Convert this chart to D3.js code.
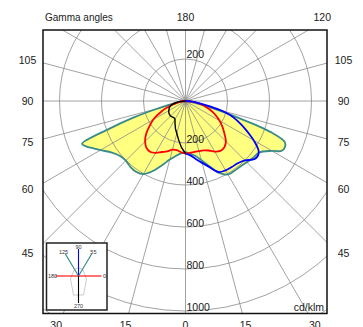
<!DOCTYPE html>
<html>
<head>
<meta charset="utf-8">
<script src="https://cdn.jsdelivr.net/npm/d3@7"></script>
<style>
  html, body { margin: 0; padding: 0; background: #fff; }
  svg { display: block; font-family: "Liberation Sans", Arial, sans-serif; }
</style>
</head>
<body>
<div id="chart"></div>
<script>
// gamma angles (0 = nadir, 90 = horizontal)
const gammas = [0, 5, 10, 15, 20, 25, 30, 35, 40, 45, 50, 55, 60, 62.5, 65, 67.5, 70, 72.5, 75, 77.5, 80, 85, 90];

// luminous intensity, cd/klm, per C-plane half
const c55  = [244, 252, 265, 292, 330, 378, 404, 406, 407, 413, 421, 428, 475, 515, 522, 512, 430, 255, 140, 80, 52, 20, 0];
const c125 = [242, 250, 266, 289, 325, 368, 402, 411, 409, 402, 407, 428, 468, 490, 516, 533, 385, 255, 130, 72, 48, 18, 0];
const c0   = [250, 248, 246, 247, 250, 260, 278, 290, 288, 272, 242, 215, 187, 172, 157, 142, 126, 110, 95, 82, 65, 32, 0];
const c180 = [250, 245, 238, 240, 255, 268, 285, 295, 290, 272, 245, 210, 178, 158, 135, 118, 95, 75, 58, 45, 32, 14, 0];
const c90  = [250, 260, 280, 305, 335, 373, 381, 384, 387, 400, 430, 426, 375, 343, 312, 283, 255, 222, 180, 120, 78, 32, 0];
const c270 = [250, 222, 188, 160, 140, 118, 100, 97, 99, 101, 100, 97, 92, 89, 86, 83, 79, 74, 67, 58, 48, 24, 0];

// grid and labels
const ringValues = [200, 400, 600, 800, 1000, 1200];
const ringLabelsBelow = [200, 400, 600, 800, 1000];
const ringLabelsAbove = [200];
const sideAngles = [45, 60, 75, 90, 105];
const bottomAngles = [-30, -15, 0, 15, 30];
const topAngles = [180, 120];
const legendPlanes = [0, 55, 90, 125, 180, 270];

const width = 363, height = 327;
const frame = { x0: 43, y0: 30, x1: 327, y1: 313.5 };
const cx = 185.5, cy = 101;
const rad = d => d * Math.PI / 180;

const r = d3.scaleLinear().domain([0, 1000]).range([0, 210]);

const svg = d3.select('#chart').append('svg')
  .attr('width', width)
  .attr('height', height);

svg.append('defs').append('clipPath').attr('id', 'frameClip')
  .append('rect')
  .attr('x', frame.x0).attr('y', frame.y0)
  .attr('width', frame.x1 - frame.x0).attr('height', frame.y1 - frame.y0);

const plot = svg.append('g').attr('clip-path', 'url(#frameClip)')
  .append('g').attr('transform', `translate(${cx},${cy})`);

// angle measured clockwise from top; right half goes 90 -> 180 deg, left half 180 -> 270 deg
function half(values, side) {
  return gammas.map((g, i) => ({
    a: side > 0 ? Math.PI - rad(g) : Math.PI + rad(g),
    r: r(values[i])
  }));
}

const smooth = d3.lineRadial().angle(d => d.a).radius(d => d.r).curve(d3.curveCatmullRom.alpha(0.5));
const sharp = d3.lineRadial().angle(d => d.a).radius(d => d.r).curve(d3.curveLinear);

const envelope = half(c55, 1).reverse().concat(half(c125, -1).slice(1));

// fill under grid
plot.append('path')
  .attr('d', smooth(envelope) + 'Z')
  .attr('fill', '#ffff80')
  .attr('stroke', 'none');

// grid circles
plot.selectAll('circle.ring')
  .data(ringValues)
  .enter()
  .append('circle')
  .attr('class', 'ring')
  .attr('r', d => r(d))
  .attr('fill', 'none')
  .attr('stroke', '#8a8a8a')
  .attr('stroke-width', 0.8);

// radial lines every 15 degrees
plot.selectAll('line.spoke')
  .data(d3.range(0, 360, 15))
  .enter()
  .append('line')
  .attr('class', 'spoke')
  .attr('x1', 0).attr('y1', 0)
  .attr('x2', d => 400 * Math.sin(rad(d)))
  .attr('y2', d => -400 * Math.cos(rad(d)))
  .attr('stroke', '#8a8a8a')
  .attr('stroke-width', 0.8);

// curves
plot.append('path')
  .attr('d', smooth(envelope) + 'Z')
  .attr('fill', 'none')
  .attr('stroke', '#3a8a8a')
  .attr('stroke-width', 1.8)
  .attr('stroke-linejoin', 'round');

plot.append('path')
  .attr('d', smooth(half(c0, 1).reverse().concat(half(c180, -1).slice(1))))
  .attr('fill', 'none')
  .attr('stroke', '#ff0000')
  .attr('stroke-width', 1.8);

plot.append('path')
  .attr('d', smooth(half(c90, 1)))
  .attr('fill', 'none')
  .attr('stroke', '#0000ff')
  .attr('stroke-width', 1.8);

plot.append('path')
  .attr('d', sharp(half(c270, -1)))
  .attr('fill', 'none')
  .attr('stroke', '#000000')
  .attr('stroke-width', 1.4);

// ring labels
const ringText = plot.append('g')
  .attr('font-size', 10.5)
  .attr('fill', '#1a1a1a');

ringText.selectAll('text.below')
  .data(ringLabelsBelow)
  .enter()
  .append('text')
  .attr('x', 1)
  .attr('y', d => r(d) - 0.5)
  .text(d => d);

ringText.selectAll('text.above')
  .data(ringLabelsAbove)
  .enter()
  .append('text')
  .attr('x', 1)
  .attr('y', d => -r(d) - 1)
  .text(d => d);

// frame
svg.append('rect')
  .attr('x', frame.x0).attr('y', frame.y0)
  .attr('width', frame.x1 - frame.x0).attr('height', frame.y1 - frame.y0)
  .attr('fill', 'none')
  .attr('stroke', '#111')
  .attr('stroke-width', 1.5);

svg.append('text')
  .attr('x', frame.x1 - 3)
  .attr('y', frame.y1 - 3)
  .attr('text-anchor', 'end')
  .attr('font-size', 10.5)
  .attr('fill', '#1a1a1a')
  .text('cd/klm');

// gamma angle labels around the frame
const outer = svg.append('g')
  .attr('font-size', 10.5)
  .attr('fill', '#1a1a1a')
  .attr('dominant-baseline', 'central');

[-1, 1].forEach(side => {
  outer.selectAll(null)
    .data(sideAngles)
    .enter()
    .append('text')
    .attr('text-anchor', 'middle')
    .attr('x', cx + side * 158)
    .attr('y', d => cy + 152 * Math.cos(rad(d)) / Math.sin(rad(d)))
    .text(d => d);
});

outer.selectAll(null)
  .data(bottomAngles)
  .enter()
  .append('text')
  .attr('text-anchor', 'middle')
  .attr('x', d => cx + 224 * Math.tan(rad(d)))
  .attr('y', cy + 224)
  .text(d => Math.abs(d));

outer.selectAll(null)
  .data(topAngles)
  .enter()
  .append('text')
  .attr('text-anchor', d => d === 180 ? 'middle' : 'end')
  .attr('x', d => cx - 84 * Math.tan(rad(d)))
  .attr('y', cy - 84)
  .text(d => d);

outer.append('text')
  .attr('x', frame.x0 + 2)
  .attr('y', cy - 84)
  .attr('font-size', 10)
  .text('Gamma angles');

// C-plane legend inset (drawn slightly squashed horizontally)
const inset = { x: 46.5, y: 243, w: 60.5, h: 67 };
const lx = 78.5, ly = 276;
const arm = { rx: 23, ry: 27 }, tag = { rx: 26, ry: 29.5 };
const planeColor = c => c === 90 ? '#0000ff' : c === 270 ? '#000000' : (c === 0 || c === 180) ? '#ff0000' : '#3a8a8a';

svg.append('rect')
  .attr('x', inset.x).attr('y', inset.y)
  .attr('width', inset.w).attr('height', inset.h)
  .attr('fill', '#fff')
  .attr('stroke', '#222')
  .attr('stroke-width', 1.5);

const leg = svg.append('g').attr('transform', `translate(${lx},${ly})`);

leg.append('path')
  .attr('d', 'M-4,-7 Q0,-9 4,-7 L8,3 L5,19 L-5,19 L-8,3 Z')
  .attr('fill', 'none')
  .attr('stroke', '#aaa')
  .attr('stroke-width', 0.6);

leg.selectAll('line')
  .data(legendPlanes)
  .enter()
  .append('line')
  .attr('x1', 0).attr('y1', 0)
  .attr('x2', d => arm.rx * Math.cos(rad(d)))
  .attr('y2', d => -arm.ry * Math.sin(rad(d)))
  .attr('stroke', d => planeColor(d))
  .attr('stroke-width', 1.1);

leg.selectAll('text')
  .data(legendPlanes)
  .enter()
  .append('text')
  .attr('x', d => tag.rx * Math.cos(rad(d)))
  .attr('y', d => -tag.ry * Math.sin(rad(d)))
  .attr('text-anchor', 'middle')
  .attr('dominant-baseline', 'central')
  .attr('font-size', 5.5)
  .attr('fill', '#333')
  .text(d => d);
</script>
</body>
</html>
